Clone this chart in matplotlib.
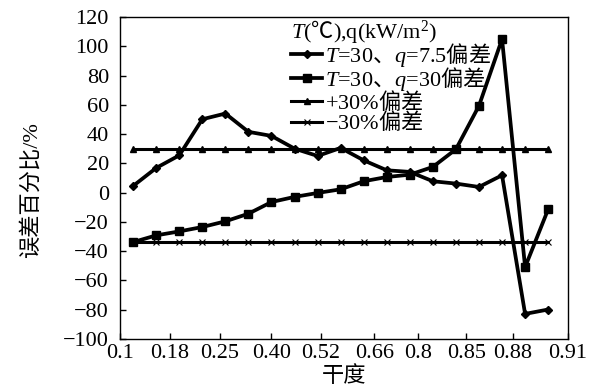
import numpy as np
import matplotlib
matplotlib.use("Agg")
import matplotlib.pyplot as plt

plt.rcParams['font.family'] = ['Liberation Serif', 'Noto Sans CJK SC', 'DejaVu Sans']
plt.rcParams['mathtext.fontset'] = 'custom'
plt.rcParams['mathtext.it'] = 'Liberation Serif:italic'
plt.rcParams['mathtext.rm'] = 'Liberation Serif'
plt.rcParams['mathtext.sf'] = 'Noto Sans CJK SC'

# 19 points along the quality axis (category positions)
idx = np.arange(19)
tick_pos = [-0.57, 1.6, 3.75, 6.0, 8.15, 10.46, 12.37, 14.45, 16.48, 18.86]
tick_labels = ['0.1', '0.18', '0.25', '0.40', '0.52', '0.66', '0.8', '0.85', '0.88', '0.91']

# error values
q75 = [4.6, 16.9, 25.5, 50.2, 54.1, 41.6, 38.8, 30.1, 25.1, 30.6,
       22.1, 15.3, 14.2, 7.8, 6.2, 3.9, 11.9, -82.9, -79.9]
q30 = [-33.8, -29.2, -26.5, -23.5, -19.6, -14.4, -6.4, -2.9, -0.2, 2.3,
       7.8, 10.7, 12.3, 17.6, 29.7, 59.4, 105.0, -50.9, -11.4]
plus30 = [30.0] * 19
minus30 = [-33.6] * 19

# CJK parts go through \mathsf so mathtext uses the CJK font for them
labels = [r'$T$=30$\mathsf{、}q$=7.5$\mathsf{偏差}$',
          r'$T$=30$\mathsf{、}q$=30$\mathsf{偏差}$',
          r'+30%$\mathsf{偏差}$',
          '\u221230%$\\mathsf{偏差}$']
header = r'$T$($\mathsf{℃}$),q(kW/m$^2$)'

fig = plt.figure(figsize=(5.95, 3.9), dpi=100)
ax = fig.add_axes([0.2017, 0.131, 0.7529, 0.825])

ax.plot(idx, q75, color='black', lw=2.7, marker='D', ms=4, label=labels[0])
ax.plot(idx, q30, color='black', lw=2.7, marker='s', ms=6, label=labels[1])
ax.plot(idx, plus30, color='black', lw=2.2, marker='^', ms=5, label=labels[2])
ax.plot(idx, minus30, color='black', lw=2.2, marker='x', ms=5, mew=0.8, label=labels[3])

ax.set_xlim(tick_pos[0], tick_pos[-1])
ax.set_ylim(-100, 120)
ax.set_xticks(tick_pos)
ax.set_xticklabels(tick_labels)
ax.set_yticks(np.arange(-100, 121, 20))
ax.tick_params(direction='in', length=4, width=1, labelsize=16)
ax.tick_params(axis='y', pad=8)
ax.tick_params(axis='x', pad=4)
for s in ax.spines.values():
    s.set_linewidth(1)

ax.set_xlabel('干度', fontsize=16, labelpad=2)
ax.set_ylabel('误差百分比/%', fontsize=16)
ax.yaxis.set_label_coords(-0.175, 0.463)

leg = ax.legend(title=header, loc='upper left',
                bbox_to_anchor=(0.347, 1.045), frameon=False, fontsize=16,
                title_fontsize=16, handlelength=1.4, handletextpad=0.15,
                labelspacing=-0.19, borderpad=0.2, alignment='left')

fig.savefig('out.png', dpi=100)
